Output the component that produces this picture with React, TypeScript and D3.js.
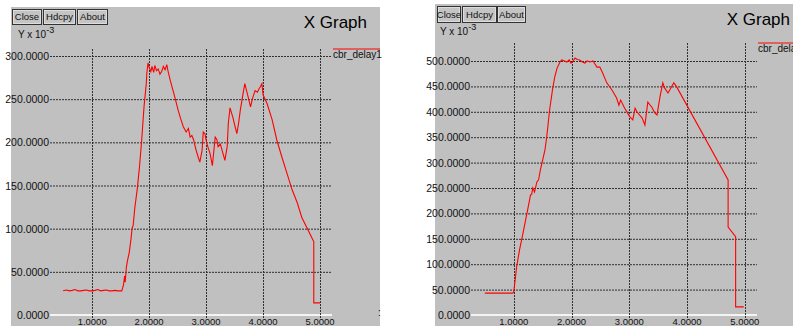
import React from "react";
import * as d3 from "d3";

// x in seconds, y in units of 10^-3
const leftX = [0.49, 0.55, 0.6, 0.65, 0.7, 0.75, 0.8, 0.85, 0.9, 0.95, 1.0, 1.05, 1.1, 1.15, 1.2, 1.25, 1.3, 1.35, 1.4, 1.45, 1.52,
  1.55, 1.57, 1.58, 1.6, 1.62, 1.65, 1.68, 1.7, 1.72, 1.75, 1.79, 1.83, 1.87, 1.91, 1.95, 1.96, 1.98, 2.0, 2.03, 2.05, 2.08, 2.1, 2.13, 2.16, 2.19, 2.22, 2.25, 2.28, 2.31, 2.33,
  2.37, 2.42, 2.46, 2.51, 2.56, 2.6, 2.65, 2.69, 2.72, 2.75, 2.78, 2.82, 2.86, 2.89, 2.93, 2.95, 2.98, 3.01, 3.04, 3.07, 3.11, 3.16, 3.19, 3.21, 3.25, 3.28, 3.33, 3.37, 3.39, 3.42,
  3.47, 3.51, 3.54, 3.57, 3.6, 3.65, 3.68, 3.71, 3.74, 3.78, 3.82, 3.86, 3.9, 3.93, 3.95, 3.98, 4.0, 4.07, 4.16, 4.24, 4.33, 4.42, 4.51, 4.6, 4.68, 4.77, 4.86, 4.89, 4.89, 5.0];
const leftY = [28, 29, 28, 28.5, 29.5, 28, 28, 28.5, 29, 28, 28, 28.5, 29.5, 28, 28.5, 29, 28, 28, 28.5, 28, 28,
  35, 45, 38, 55, 63, 72, 87, 100, 104, 125, 145, 171, 203, 241, 268, 280, 292, 287, 282, 288, 281, 289, 283, 285, 279, 282, 288, 284, 290, 283,
  272, 260, 250, 237, 226, 218, 212, 216, 206, 208, 203, 192, 183, 177, 191, 212, 210, 199, 193, 187, 173, 206, 203, 195, 198, 191, 179, 195, 222, 240,
  229, 218, 210, 222, 237, 257, 268, 260, 252, 241, 252, 260, 258, 262, 264, 268, 255, 245, 226, 203, 183, 164, 145, 130, 113, 101, 89, 85, 14, 14];

const rightX = [0.5, 0.98, 1.0, 1.05, 1.1, 1.16, 1.24, 1.29, 1.31, 1.33, 1.36, 1.4, 1.43, 1.46, 1.5, 1.54, 1.57, 1.62, 1.67, 1.71, 1.75, 1.8, 1.83, 1.88, 1.92, 1.96, 1.99,
  2.03, 2.06, 2.1, 2.14, 2.19, 2.23, 2.27, 2.32, 2.37, 2.4, 2.44, 2.49, 2.54, 2.61, 2.7, 2.78, 2.82, 2.85, 2.92, 3.01, 3.06, 3.1, 3.13, 3.22, 3.27, 3.32, 3.39, 3.44, 3.48,
  3.53, 3.58, 3.61, 3.67, 3.72, 3.77, 3.82, 4.71, 4.71, 4.84, 4.84, 4.98];
const rightY = [43, 43, 45, 95, 128, 161, 207, 236, 238, 250, 242, 262, 266, 285, 305, 325, 350, 403, 443, 469, 486, 498, 502, 500, 498, 502, 496,
  500, 506, 503, 502, 498, 496, 500, 498, 500, 495, 488, 488, 476, 457, 443, 427, 413, 423, 407, 390, 384, 407, 400, 388, 374, 419, 409, 398, 394,
  429, 457, 447, 437, 447, 457, 449, 266, 173, 154, 16, 16];

const xTicks = [1, 2, 3, 4, 5];
const leftYTicks = [0, 50, 100, 150, 200, 250, 300];
const rightYTicks = [0, 50, 100, 150, 200, 250, 300, 350, 400, 450, 500];

const FONT = "'Liberation Sans', Arial, sans-serif";

type PanelProps = {
  bg: { x: number; y: number; w: number; h: number };
  xr: [number, number];
  yr: [number, number]; // pixel for 0, pixel for yMax tick
  yMax: number;
  gridTop: number;
  xs: number[];
  ys: number[];
  yTicks: number[];
  buttons: { x: number; w: number; label: string }[];
  btnY: number;
  btnH: number;
  titleX: number;
  titleY: number;
  ylabX: number;
  ylabY: number;
  legendY: number;
  legendText: string;
};

const Panel = (p: PanelProps) => {
  const x = d3.scaleLinear().domain([0.26, 5.21]).range(p.xr);
  const y = d3.scaleLinear().domain([0, p.yMax]).range(p.yr);
  const line = d3
    .line<number>()
    .x((d, i) => x(p.xs[i]))
    .y((d) => y(d));
  const left = p.xr[0];
  const right = p.xr[1];
  const bottom = y(0);

  return (
    <g fontFamily={FONT}>
      <rect x={p.bg.x} y={p.bg.y} width={p.bg.w} height={p.bg.h} fill="#c0c0c0" />
      {p.buttons.map((b) => (
        <g key={b.label}>
          <rect x={b.x + 0.5} y={p.btnY + 0.5} width={b.w} height={p.btnH} fill="#c4c4c4" stroke="#333" />
          <rect x={b.x + 1.5} y={p.btnY + 1.5} width={b.w - 2} height={p.btnH - 2} fill="none" stroke="#eee" strokeWidth={0.6} />
          <text x={b.x + b.w / 2 + 0.5} y={p.btnY + p.btnH - 4} fontSize={9.5} textAnchor="middle" fill="#111">
            {b.label}
          </text>
        </g>
      ))}
      <text x={p.titleX} y={p.titleY} fontSize={17} textAnchor="end" fill="#000">
        X Graph
      </text>
      <text x={p.ylabX} y={p.ylabY} fontSize={10} fill="#111">
        Y x 10<tspan dy={-5} fontSize={9}>-3</tspan>
      </text>

      {/* horizontal grid */}
      {p.yTicks.map((t) =>
        t === 0 ? (
          <line key={t} x1={left} x2={right} y1={y(t)} y2={y(t)} stroke="#f4f4f4" strokeWidth={2} />
        ) : (
          <line key={t} x1={left} x2={right} y1={y(t) + 0.5} y2={y(t) + 0.5} stroke="#303030" strokeDasharray="2,1" strokeWidth={1} />
        )
      )}
      {/* vertical grid */}
      {xTicks.map((t) => (
        <line key={t} x1={Math.round(x(t)) + 0.5} x2={Math.round(x(t)) + 0.5} y1={p.gridTop} y2={bottom + 4} stroke="#303030" strokeDasharray="2,1" strokeWidth={1} />
      ))}
      {p.yTicks.map((t) => (
        <text key={t} x={left - 1} y={y(t) + 4} fontSize={10.5} textAnchor="end" fill="#111">
          {d3.format(".4f")(t)}
        </text>
      ))}
      {xTicks.map((t) => (
        <text key={t} x={x(t)} y={bottom + 10} fontSize={9.5} textAnchor="middle" fill="#111">
          {d3.format(".4f")(t)}
        </text>
      ))}

      <path d={line(p.ys) || ""} fill="none" stroke="#ff0000" strokeWidth={1.1} />

      <line x1={right + 1} x2={p.bg.x + p.bg.w} y1={p.legendY} y2={p.legendY} stroke="#e06060" strokeWidth={2} />
      <text x={right + 1} y={p.legendY + 9} fontSize={10} fill="#111">
        {p.legendText}
      </text>
    </g>
  );
};

export default function App() {
  return (
    <svg width={793} height={326} style={{ position: "absolute", left: 0, top: 0 }}>
      <rect x={0} y={0} width={793} height={326} fill="#fff" />
      <Panel
        bg={{ x: 11, y: 7, w: 369, h: 319 }}
        xr={[50, 332]}
        yr={[315, 56]}
        yMax={300}
        gridTop={49}
        xs={leftX}
        ys={leftY}
        yTicks={leftYTicks}
        buttons={[
          { x: 12, w: 29, label: "Close" },
          { x: 43, w: 32, label: "Hdcpy" },
          { x: 77, w: 30, label: "About" },
        ]}
        btnY={9}
        btnH={15}
        titleX={367}
        titleY={28}
        ylabX={18}
        ylabY={38}
        legendY={49}
        legendText="cbr_delay1"
      />
      <Panel
        bg={{ x: 435, y: 4, w: 358, h: 322 }}
        xr={[471, 757]}
        yr={[315, 61]}
        yMax={500}
        gridTop={43}
        xs={rightX}
        ys={rightY}
        yTicks={rightYTicks}
        buttons={[
          { x: 437, w: 23, label: "Close" },
          { x: 462, w: 34, label: "Hdcpy" },
          { x: 497, w: 28, label: "About" },
        ]}
        btnY={6}
        btnH={16}
        titleX={790}
        titleY={25}
        ylabX={440}
        ylabY={35}
        legendY={43}
        legendText="cbr_delay1"
      />
      <text x={378} y={316} fontSize={10} fontFamily={FONT} fill="#111">:</text>
    </svg>
  );
}
